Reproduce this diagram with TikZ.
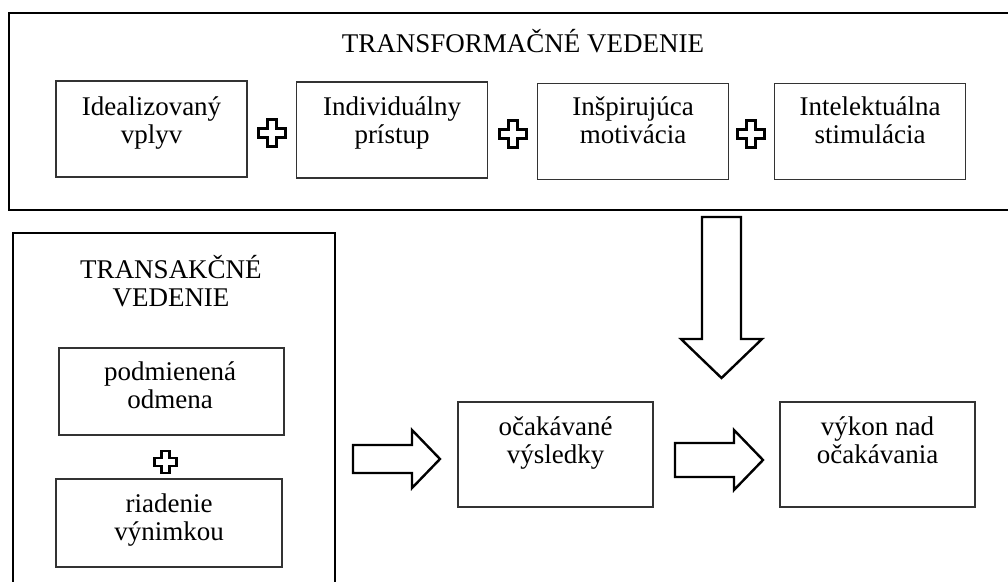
\documentclass[tikz,border=0pt]{standalone}
\usepackage{fontspec}
\setmainfont{Liberation Serif}
\usetikzlibrary{calc}
\tikzset{
  bigbox/.style={draw=black, line width=2.6pt, rectangle, inner sep=0pt},
  smallbox/.style={draw=black!80, line width=1.5pt, rectangle, inner sep=0pt, minimum width=191pt, minimum height=96pt},
  lbl/.style={anchor=north, inner sep=0pt, align=center, font=\fontsize{27pt}{28pt}\selectfont},
  ttl/.style={anchor=base, inner sep=0pt, font=\fontsize{27pt}{28pt}\selectfont},
  blockarrow/.style={draw=black, line width=2.4pt, fill=white, line join=miter},
  plusline/.style={draw=black, line width=2.4pt, fill=white, line join=miter},
  pics/barrow/.style n args={4}{code={
    \draw[blockarrow] (0,-#2) -- ({#1-#4},-#2) -- ({#1-#4},-#3) -- (#1,0)
      -- ({#1-#4},#3) -- ({#1-#4},#2) -- (0,#2) -- cycle;}},
  pics/plussign/.style 2 args={code={
    \draw[plusline] (-#2,-#1) -- (#2,-#1) -- (#2,-#2) -- (#1,-#2) -- (#1,#2)
      -- (#2,#2) -- (#2,#1) -- (-#2,#1) -- (-#2,#2) -- (-#1,#2)
      -- (-#1,-#2) -- (-#2,-#2) -- cycle;}}
}
\begin{document}
\begin{tikzpicture}[x=1pt,y=-1pt]
\useasboundingbox[fill=white] (0,0) rectangle (1008,581);
% big frames
\node[bigbox, minimum width=1006pt, minimum height=197pt] (tf) at (512,111.5) {};
\node[bigbox, minimum width=322pt, minimum height=362pt] (tk) at (174,414) {};
% titles
\node[ttl] (tft) at (523,52) {TRANSFORMAČNÉ VEDENIE};
\node[lbl] (tkt) at (171,278) {\smash{TRANSAKČNÉ}\\VEDENIE};
% transformational boxes
\node[smallbox] (b1) at (151.5,129) {};
\node[smallbox] (b2) at (392,130) {};
\node[smallbox] (b3) at (633,131.5) {};
\node[smallbox] (b4) at (870,131.5) {};
\node[lbl] (t1) at (151.5,115) {\smash{Idealizovaný}\\vplyv};
\node[lbl] (t2) at (392,115) {\smash{Individuálny}\\prístup};
\node[lbl] (t3) at (633,115) {\smash{Inšpirujúca}\\motivácia};
\node[lbl] (t4) at (870,115) {\smash{Intelektuálna}\\stimulácia};
\pic at (272,133) {plussign={13.5}{4.6}};
\pic at (513,134) {plussign={13.5}{4.6}};
\pic at (751,134) {plussign={13.5}{4.6}};
% transactional boxes
\node[smallbox, minimum width=225pt, minimum height=87pt] (pb) at (171.5,391.5) {};
\node[smallbox, minimum width=226pt, minimum height=88pt] (rb) at (169,523) {};
\node[lbl] (tp) at (170,380) {\smash{podmienená}\\odmena};
\node[lbl] (tr) at (169,512) {\smash{riadenie}\\výnimkou};
\pic at (165.5,462) {plussign={11}{4}};
% outcome boxes
\node[smallbox, minimum width=195pt, minimum height=105pt] (oc) at (555.5,454.5) {};
\node[smallbox, minimum width=195pt, minimum height=105pt] (vk) at (877.5,454.5) {};
\node[lbl] (to) at (555.5,435) {\smash{očakávané}\\výsledky};
\node[lbl] (tv) at (877.5,435) {\smash{výkon nad}\\očakávania};
% block arrows
\coordinate (a1) at (353,459);
\coordinate (a2) at (675,460);
\coordinate (a3) at (721.5,217);
\pic at (a1) {barrow={87}{14}{29}{28}};
\pic at (a2) {barrow={88}{17}{30}{29}};
\pic[rotate=-90] at (a3) {barrow={161}{19.5}{40.5}{39}};
\end{tikzpicture}
\end{document}
